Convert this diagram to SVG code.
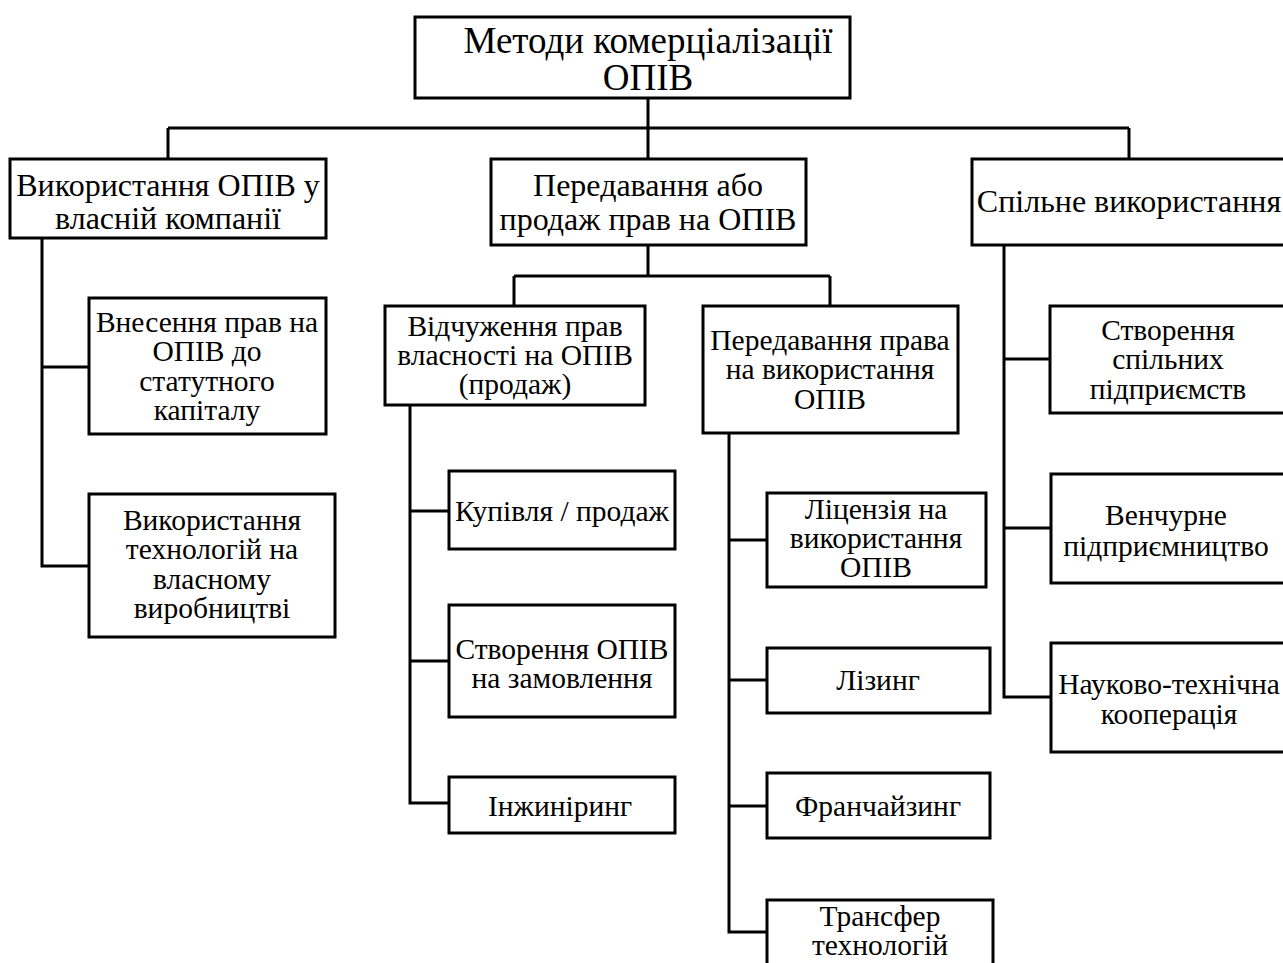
<svg xmlns="http://www.w3.org/2000/svg" width="1283" height="963" viewBox="0 0 1283 963">
  <style>
    .box { fill: #ffffff; stroke: #000000; stroke-width: 3; }
    .wire { fill: none; stroke: #000000; stroke-width: 3; }
    text { font-family: "Liberation Serif", "Times New Roman", serif; font-size: 29.5px; fill: #000000; text-anchor: middle; }
    .title { font-size: 37px; }
    .lvl1 { font-size: 32px; }
  </style>
  <rect width="1283" height="963" fill="#ffffff"/>

  <!-- connectors -->
  <g id="connectors">
    <path class="wire" d="M648 98 V128 M168 128 H1129 M168 128 V159 M648 128 V159 M1129 128 V159"/>
    <path class="wire" d="M42 238 V566 H89 M42 367 H89"/>
    <path class="wire" d="M648 245 V276 M514 276 H830 M514 276 V306 M830 276 V306"/>
    <path class="wire" d="M410 405 V803 H449 M410 511 H449 M410 661 H449"/>
    <path class="wire" d="M729 433 V932 H767 M729 540 H767 M729 680 H767 M729 806 H767"/>
    <path class="wire" d="M1004 245 V697 H1051 M1004 359 H1050 M1004 528 H1051"/>
  </g>

  <g id="root">
    <rect class="box" x="415" y="17" width="435" height="81"/>
    <text class="title" x="648" y="53">Методи комерціалізації</text>
    <text class="title" x="648" y="90">ОПІВ</text>
  </g>

  <g id="own-use">
    <rect class="box" x="10" y="159" width="316" height="79"/>
    <text class="lvl1" x="168" y="196">Використання ОПІВ у</text>
    <text class="lvl1" x="168" y="229">власній компанії</text>
  </g>

  <g id="capital">
    <rect class="box" x="89" y="298" width="237" height="136"/>
    <text x="207" y="332">Внесення прав на</text>
    <text x="207" y="361">ОПІВ до</text>
    <text x="207" y="391">статутного</text>
    <text x="207" y="420">капіталу</text>
  </g>

  <g id="production">
    <rect class="box" x="89" y="494" width="246" height="143"/>
    <text x="212" y="530">Використання</text>
    <text x="212" y="559">технологій на</text>
    <text x="212" y="589">власному</text>
    <text x="212" y="618">виробництві</text>
  </g>

  <g id="transfer-sale">
    <rect class="box" x="491" y="159" width="315" height="86"/>
    <text class="lvl1" x="648" y="196">Передавання або</text>
    <text class="lvl1" x="648" y="230">продаж прав на ОПІВ</text>
  </g>

  <g id="alienation">
    <rect class="box" x="385" y="306" width="260" height="99"/>
    <text x="515" y="336">Відчуження прав</text>
    <text x="515" y="365">власності на ОПІВ</text>
    <text x="515" y="394">(продаж)</text>
  </g>

  <g id="use-rights">
    <rect class="box" x="703" y="306" width="255" height="127"/>
    <text x="830" y="350">Передавання права</text>
    <text x="830" y="379">на використання</text>
    <text x="830" y="409">ОПІВ</text>
  </g>

  <g id="purchase">
    <rect class="box" x="449" y="471" width="226" height="78"/>
    <text x="562" y="521">Купівля / продаж</text>
  </g>

  <g id="custom">
    <rect class="box" x="449" y="605" width="226" height="112"/>
    <text x="562" y="659">Створення ОПІВ</text>
    <text x="562" y="688">на замовлення</text>
  </g>

  <g id="engineering">
    <rect class="box" x="449" y="777" width="226" height="56"/>
    <text x="560" y="816">Інжиніринг</text>
  </g>

  <g id="licence">
    <rect class="box" x="767" y="493" width="219" height="94"/>
    <text x="876" y="519">Ліцензія на</text>
    <text x="876" y="548">використання</text>
    <text x="876" y="577">ОПІВ</text>
  </g>

  <g id="leasing">
    <rect class="box" x="767" y="648" width="223" height="65"/>
    <text x="878" y="690">Лізинг</text>
  </g>

  <g id="franchising">
    <rect class="box" x="767" y="773" width="223" height="65"/>
    <text x="878" y="816">Франчайзинг</text>
  </g>

  <g id="tech-transfer">
    <rect class="box" x="767" y="900" width="226" height="80"/>
    <text x="880" y="926">Трансфер</text>
    <text x="880" y="955">технологій</text>
  </g>

  <g id="joint-use">
    <rect class="box" x="972" y="159" width="316" height="86"/>
    <text class="lvl1" x="1129" y="212">Спільне використання</text>
  </g>

  <g id="joint-ventures">
    <rect class="box" x="1050" y="306" width="238" height="107"/>
    <text x="1168" y="340">Створення</text>
    <text x="1168" y="369">спільних</text>
    <text x="1168" y="399">підприємств</text>
  </g>

  <g id="venture">
    <rect class="box" x="1051" y="474" width="237" height="109"/>
    <text x="1166" y="525">Венчурне</text>
    <text x="1166" y="556">підприємництво</text>
  </g>

  <g id="cooperation">
    <rect class="box" x="1051" y="643" width="237" height="109"/>
    <text x="1169" y="694">Науково-технічна</text>
    <text x="1169" y="724">кооперація</text>
  </g>
</svg>
